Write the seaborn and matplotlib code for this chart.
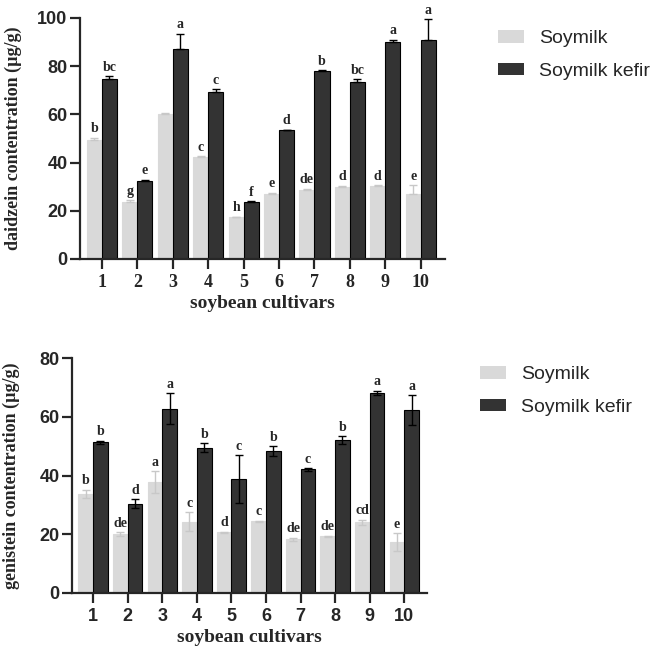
import matplotlib
matplotlib.use('Agg')
import matplotlib.pyplot as plt
import seaborn as sns
import pandas as pd
import numpy as np

# data
cultivars = [str(i) for i in range(1, 11)]
samples = ["Soymilk", "Soymilk kefir"]

daid_soy = [49.5, 23.7, 60.0, 42.3, 17.3, 27.0, 28.5, 30.0, 30.2, 27.0]
daid_soy_err = [0.8, 0.8, 0.7, 0.3, 0.2, 0.5, 0.6, 0.4, 0.5, 3.5]
daid_kef = [74.7, 32.3, 87.0, 69.3, 23.8, 53.4, 77.8, 73.5, 90.0, 91.0]
daid_kef_err = [1.2, 0.6, 6.5, 1.2, 0.2, 0.3, 0.6, 1.0, 1.0, 8.5]
daid_soy_let = ["b", "g", "", "c", "h", "e", "de", "d", "d", "e"]
daid_kef_let = ["bc", "e", "a", "c", "f", "d", "b", "bc", "a", "a"]

gen_soy = [33.7, 20.0, 37.7, 24.3, 20.6, 24.4, 18.3, 19.3, 24.0, 17.3]
gen_soy_err = [1.5, 0.6, 3.8, 3.3, 0.3, 0.2, 0.5, 0.2, 1.0, 3.0]
gen_kef = [51.3, 30.4, 62.8, 49.4, 38.7, 48.3, 42.1, 52.1, 68.2, 62.3]
gen_kef_err = [0.5, 1.5, 5.2, 1.5, 8.2, 1.7, 0.4, 1.3, 0.7, 5.0]
gen_soy_let = ["b", "de", "a", "c", "d", "c", "de", "de", "cd", "e"]
gen_kef_let = ["b", "d", "a", "b", "c", "b", "c", "b", "a", "a"]

LIGHT = "#d9d9d9"
DARK = "#333333"
SERIF = "Liberation Serif"
SANS = "Liberation Sans"

sns.set_style("ticks")
plt.rcParams['font.family'] = [SANS, 'DejaVu Sans']

fig = plt.figure(figsize=(6.61, 6.52), dpi=100)
ax1 = fig.add_axes([0.121, 0.6028, 0.552, 0.3696])
ax2 = fig.add_axes([0.109, 0.0905, 0.537, 0.3604])


def draw(ax, soy, soy_err, kef, kef_err, soy_let, kef_let, ymax, ylabel,
         xlim, both_err, xtick_font, label_x, leg_pos):
    df = pd.DataFrame({
        "cultivar": cultivars * 2,
        "sample": [samples[0]] * 10 + [samples[1]] * 10,
        "value": soy + kef,
    })
    sns.barplot(data=df, x="cultivar", y="value", hue="sample",
                palette=[LIGHT, DARK], errorbar=None, width=0.85,
                ax=ax, legend=True)
    for cont, vals, errs, lets, col in zip(ax.containers, [soy, kef],
                                           [soy_err, kef_err],
                                           [soy_let, kef_let], [LIGHT, DARK]):
        xs = [p.get_x() + p.get_width() / 2 for p in cont.patches]
        for p in cont.patches:
            p.set_edgecolor("black" if col == DARK else LIGHT)
            p.set_linewidth(0.8)
        lower = errs if both_err else np.zeros(len(errs))
        ax.errorbar(xs, vals, yerr=[lower, errs], fmt="none",
                    ecolor="black" if col == DARK else "#c8c8c8",
                    elinewidth=1.0, capsize=3, capthick=1.0)
        for x, v, e, t in zip(xs, vals, errs, lets):
            ax.text(x, v + e + ymax * 0.01, t, ha="center", va="bottom",
                    fontsize=10, fontweight="bold", family=SERIF)
    ax.set_ylim(0, ymax)
    ax.set_xlim(*xlim)
    ax.set_yticks(np.arange(0, ymax + 1, 20))
    ax.set_xlabel("soybean cultivars", fontsize=14, fontweight="bold",
                  family=SERIF, labelpad=3)
    ax.set_ylabel(ylabel, fontsize=13, fontweight="bold", family=SERIF)
    ax.yaxis.set_label_coords(label_x, 0.5)
    for s in ["top", "right"]:
        ax.spines[s].set_visible(False)
    for s in ["left", "bottom"]:
        ax.spines[s].set_linewidth(1.6)
    ax.tick_params(width=1.6, length=7)
    ax.tick_params(axis="y", pad=2)
    ax.tick_params(axis="x", pad=4)
    for lab in ax.get_yticklabels():
        lab.set_fontweight("bold")
        lab.set_family(SANS)
        lab.set_fontsize(13)
    for lab in ax.get_xticklabels():
        lab.set_fontweight("bold")
        lab.set_family(xtick_font)
        lab.set_fontsize(13)
    leg = ax.legend(loc="upper left", bbox_to_anchor=leg_pos,
                    bbox_transform=fig.transFigure, borderpad=0,
                    borderaxespad=0, frameon=False, fontsize=14,
                    handlelength=1.35, handleheight=0.62, labelspacing=0.8,
                    handletextpad=0.77)
    for h in leg.legend_handles:
        h.set_edgecolor("none")


draw(ax1, daid_soy, daid_soy_err, daid_kef, daid_kef_err, daid_soy_let,
     daid_kef_let, 100, "daidzein contentration (µg/g)", (-0.62, 9.68), False,
     SERIF, -0.159, (498 / 661, 1 - 30 / 652))
draw(ax2, gen_soy, gen_soy_err, gen_kef, gen_kef_err, gen_soy_let,
     gen_kef_let, 80, "genistein contentration (µg/g)", (-0.61, 9.66), True,
     SANS, -0.146, (480 / 661, 1 - 366 / 652))

fig.savefig("out.png", dpi=100)
